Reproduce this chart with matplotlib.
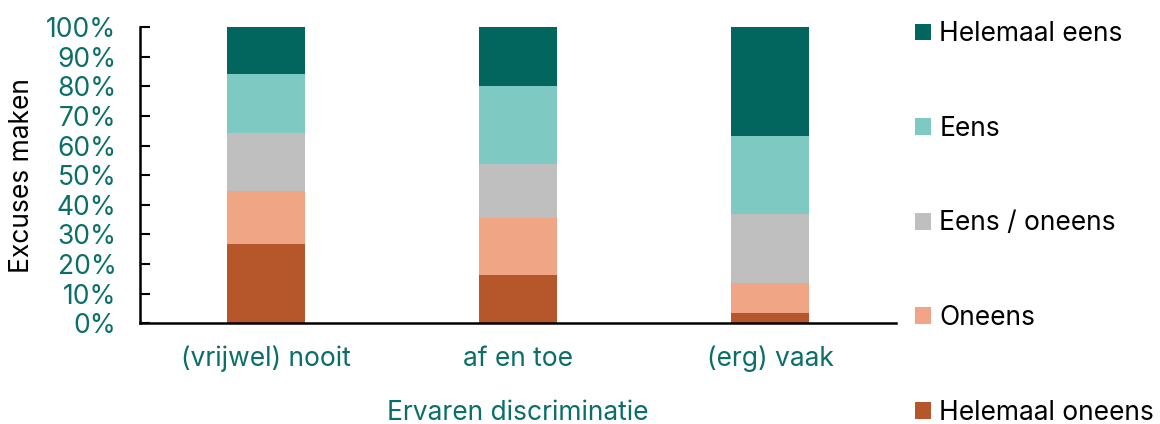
import matplotlib.pyplot as plt
import numpy as np

plt.rcParams['font.family'] = ['Inter', 'DejaVu Sans']

categories = ['(vrijwel) nooit', 'af en toe', '(erg) vaak']
series = ['Helemaal oneens', 'Oneens', 'Eens / oneens', 'Eens', 'Helemaal eens']
helemaal_oneens = [26.7, 16.4, 3.5]
oneens = [17.9, 19.0, 10.1]
neutraal = [19.6, 18.4, 23.4]
eens = [19.8, 26.4, 26.1]
helemaal_eens = [16.0, 19.8, 36.9]

values = [helemaal_oneens, oneens, neutraal, eens, helemaal_eens]
colors = ['#B5572A', '#F0A585', '#BFBFBF', '#7FC9C3', '#03665E']
teal = '#0B6E68'
fs = 19

fig = plt.figure(figsize=(11.6, 4.24), dpi=100)
ax = fig.add_axes([0.1207, 0.2375, 0.6517, 0.6988])

x = np.arange(len(categories))
bottom = np.zeros(len(categories))
handles = []
for name, vals, col in zip(series, values, colors):
    b = ax.bar(x, vals, width=0.31, bottom=bottom, color=col, label=name)
    handles.append(b)
    bottom += np.array(vals)

ax.set_xlim(-0.5, 2.5)
ax.set_ylim(0, 100)
ax.set_yticks(np.arange(0, 101, 10))
ax.set_yticklabels([f'{v}%' for v in range(0, 101, 10)])
ax.set_xticks(x)
ax.set_xticklabels(categories)

ax.tick_params(axis='y', direction='in', length=7, width=1.5, labelsize=fs,
               labelcolor=teal, pad=17)
ax.tick_params(axis='x', length=0, labelsize=fs, labelcolor=teal, pad=16)
for s in ['top', 'right']:
    ax.spines[s].set_visible(False)
ax.spines['left'].set_linewidth(1.8)
ax.spines['bottom'].set_linewidth(1.8)

ax.set_ylabel('Excuses maken', fontsize=fs, color='black')
ax.yaxis.set_label_coords(-0.139, 0.5)
ax.set_xlabel('Ervaren discriminatie', fontsize=fs, color=teal, labelpad=20)

fig.legend(handles[::-1], series[::-1], loc='upper left',
           bbox_to_anchor=(0.7732, 0.9935), frameon=False, fontsize=fs,
           handlelength=0.6, handleheight=0.6, handletextpad=0.3,
           labelspacing=2.6, borderaxespad=0.3)

fig.savefig('out.png', dpi=100)
